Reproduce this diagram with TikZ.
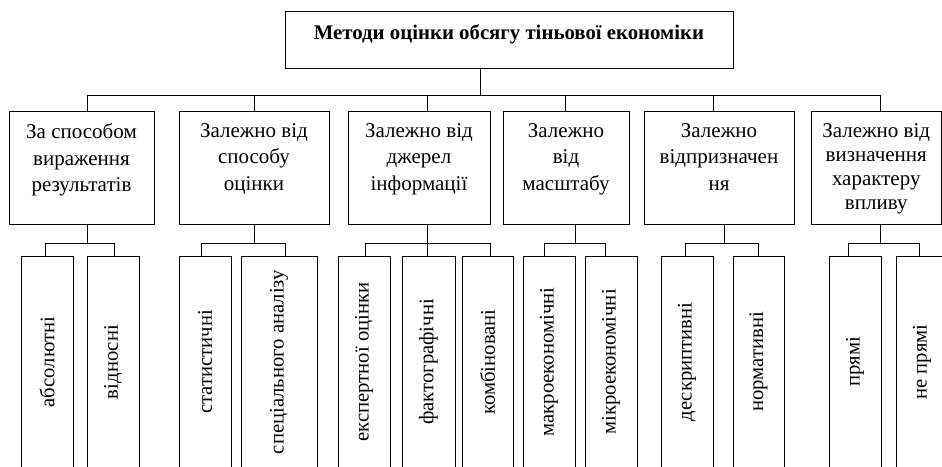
\documentclass[tikz,border=0pt]{standalone}
\usepackage{fontspec}
\setmainfont{Liberation Serif}
\usepackage{graphicx}
\newcommand\catbody[3]{\parbox[c][#2][t]{#1}{\centering\vspace*{12.5pt}#3}}
\newcommand\vtxt[1]{\rotatebox{90}{#1}}
\tikzset{
  conn/.style={line width=0.9pt},
  topbox/.style={draw, line width=0.9pt, inner sep=0pt, font=\fontsize{20.8}{25}\selectfont\bfseries},
  catbox/.style={draw, line width=0.9pt, inner sep=0pt, font=\fontsize{21}{26.5}\selectfont},
  leafbox/.style={draw, line width=0.9pt, inner sep=0pt, minimum height=212pt, font=\fontsize{20.7}{24}\selectfont},
}
\begin{document}
\begin{tikzpicture}[x=1pt,y=-1pt]
\path[use as bounding box, fill=white] (0,0) rectangle (942,466);
\clip (0,0) rectangle (942,466);
% top
\node[topbox] (top) at (509,39.5) {\parbox[c][57pt][t]{448pt}{\centering\vspace*{14pt}Методи оцінки обсягу тіньової економіки}};
% categories
\node[catbox] (b1) at (81.5,167.5) {\catbody{145pt}{113pt}{За способом\\вираження\\результатів}};
\node[catbox] (b2) at (254,167.5) {\catbody{150pt}{113pt}{Залежно від\\способу\\оцінки}};
\node[catbox] (b3) at (419,167.5) {\catbody{142pt}{113pt}{Залежно від\\джерел\\інформації}};
\node[catbox] (b4) at (566,167.5) {\catbody{126pt}{113pt}{Залежно\\від\\масштабу}};
\node[catbox] (b5) at (719,167.5) {\catbody{150pt}{113pt}{Залежно\\відпризначен\\ня}};
\node[catbox] (b6) at (876.25,167.5) {\catbody{130.5pt}{113pt}{\fontsize{21}{24}\selectfont Залежно від\\визначення\\характеру\\впливу}};
% leaves
\node[leafbox, minimum width=52pt] (l1) at (47,362) {\vtxt{абсолютні}};
\node[leafbox, minimum width=52pt] (l2) at (113,362) {\vtxt{відносні}};
\node[leafbox, minimum width=52pt] (l3) at (205,362) {\vtxt{статистичні}};
\node[leafbox, minimum width=76pt] (l4) at (279,362) {\vtxt{спеціального аналізу}};
\node[leafbox, minimum width=52pt] (l5) at (364,362) {\vtxt{експертної оцінки}};
\node[leafbox, minimum width=53pt] (l6) at (428.5,362) {\vtxt{фактографічні}};
\node[leafbox, minimum width=51pt] (l7) at (487.5,362) {\vtxt{комбіновані}};
\node[leafbox, minimum width=52pt] (l8) at (549,362) {\vtxt{макроекономічні}};
\node[leafbox, minimum width=52pt] (l9) at (611,362) {\vtxt{мікроекономічні}};
\node[leafbox, minimum width=52pt] (l10) at (687,362) {\vtxt{дескриптивні}};
\node[leafbox, minimum width=51pt] (l11) at (758.5,362) {\vtxt{нормативні}};
\node[leafbox, minimum width=52pt] (l12) at (855,362) {\vtxt{прямі}};
\node[leafbox, minimum width=52pt] (l13) at (922,362) {\vtxt{не прямі}};
% main bus
\coordinate (bus) at (0,95);
\coordinate (sb) at (0,243);
\draw[conn] (top.south -| 480,0) -- (bus -| 480,0);
\draw[conn] (b1.north -| 87,0) -- (bus -| 87,0) -- (bus -| 880,0) -- (b6.north -| 880,0);
\draw[conn] (b2.north -| 254,0) -- (bus -| 254,0);
\draw[conn] (b3.north -| 427,0) -- (bus -| 427,0);
\draw[conn] (b4.north -| 565,0) -- (bus -| 565,0);
\draw[conn] (b5.north -| 713,0) -- (bus -| 713,0);
% group 1
\draw[conn] (b1.south -| 87,0) -- (sb -| 87,0);
\draw[conn] (l1.north -| 45,0) -- (sb -| 45,0) -- (sb -| 114,0) -- (l2.north -| 114,0);
% group 2
\draw[conn] (b2.south -| 254,0) -- (sb -| 254,0);
\draw[conn] (l3.north -| 201,0) -- (sb -| 201,0) -- (sb -| 285,0) -- (l4.north -| 285,0);
% group 3
\draw[conn] (b3.south -| 427,0) -- (l6.north -| 427,0);
\draw[conn] (l5.north -| 365,0) -- (sb -| 365,0) -- (sb -| 490,0) -- (l7.north -| 490,0);
% group 4
\draw[conn] (b4.south -| 575,0) -- (sb -| 575,0);
\draw[conn] (l8.north -| 544,0) -- (sb -| 544,0) -- (sb -| 605,0) -- (l9.north -| 605,0);
% group 5
\draw[conn] (b5.south -| 724,0) -- (sb -| 724,0);
\draw[conn] (l10.north -| 685,0) -- (sb -| 685,0) -- (sb -| 758,0) -- (l11.north -| 758,0);
% group 6
\draw[conn] (b6.south -| 880,0) -- (sb -| 880,0);
\draw[conn] (l12.north -| 848,0) -- (sb -| 848,0) -- (sb -| 919,0) -- (l13.north -| 919,0);
\end{tikzpicture}
\end{document}
